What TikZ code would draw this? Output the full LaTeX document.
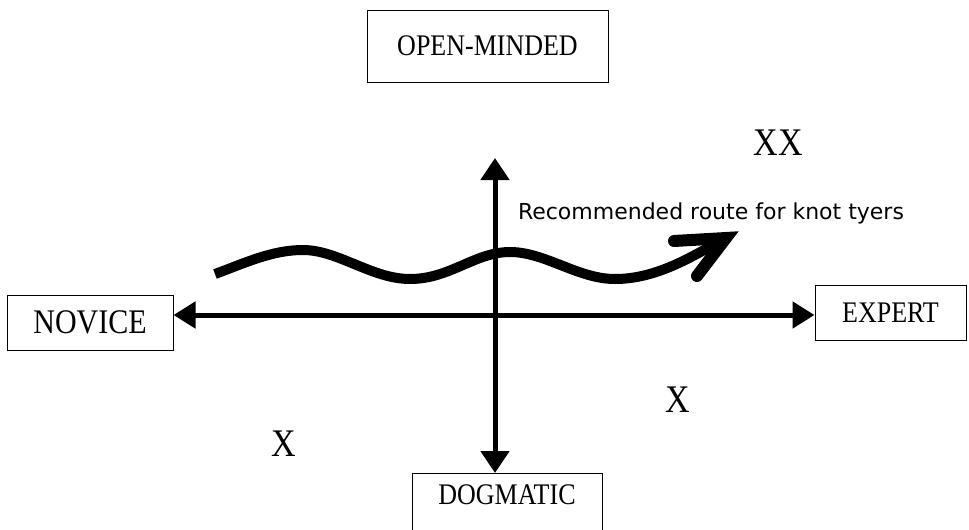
\documentclass[tikz,border=0pt]{standalone}
\usepackage{fontspec}
\setmainfont{Liberation Serif}
\newfontfamily\labelsans{DejaVu Sans}
\usetikzlibrary{arrows.meta}
\newcommand{\tallcaps}[1]{\scalebox{1}[1.15]{#1}}

\begin{document}
\begin{tikzpicture}[x=1pt,y=-1pt,
  labelbox/.style={draw, line width=1pt, inner sep=0pt, font=\fontsize{26}{30}\selectfont},
  posmark/.style={font=\fontsize{34}{38}\selectfont},
  axisline/.style={line width=5pt, {Triangle[length=22pt,width=26pt]}-{Triangle[length=22pt,width=26pt]}},
  vaxisline/.style={line width=5pt, {Triangle[length=22pt,width=28pt]}-{Triangle[length=22pt,width=28pt]}},
  routeline/.style={line width=10pt, line join=round},
  routehead/.style={line width=12pt, line cap=round, line join=miter}
]
\useasboundingbox (0,0) rectangle (969,530);

% quadrant labels
\node[labelbox, minimum width=241pt, minimum height=72pt] (open) at (487.5,46) {\tallcaps{OPEN-MINDED}};
\node[labelbox, minimum width=166pt, minimum height=55pt, font=\fontsize{30}{34}\selectfont] (novice) at (90,322.5) {\tallcaps{NOVICE}};
\node[labelbox, minimum width=151pt, minimum height=55pt] (expert) at (890.5,312.5) {\tallcaps{EXPERT}};
\node[labelbox, anchor=north, minimum width=190pt, inner ysep=8pt, text height=23pt, text depth=60pt] (dogmatic) at (507,473) {\tallcaps{DOGMATIC}};

% axes
\coordinate (origin) at (495,315);
\coordinate (uptip) at (495,158);
\draw[axisline] (origin -| novice.east) -- (origin -| expert.west);
\draw[vaxisline] (uptip) -- (origin |- dogmatic.north);

% positions
\node[posmark] (xx) at (778,143) {\tallcaps{XX}};
\node[posmark] (xa) at (284,444) {\tallcaps{X}};
\node[posmark] (xb) at (678,400) {\tallcaps{X}};

% recommended route
\node[font=\labelsans\fontsize{22}{26}\selectfont, anchor=base] (route) at (711,219) {Recommended route for knot tyers};
\coordinate (rstart) at (215,274);
\coordinate (rtip) at (726,238);
\draw[routeline] (rstart)
  .. controls (245,263) and (272,250) .. (303,250)
  .. controls (338,250) and (372,279) .. (410,279)
  .. controls (450,279) and (475,252) .. (510,252)
  .. controls (545,252) and (578,279) .. (615,279)
  .. controls (655,279) and (690,258) .. (720,241);
\draw[routehead] (674,241) -- (rtip) -- (697,276);
\end{tikzpicture}
\end{document}
